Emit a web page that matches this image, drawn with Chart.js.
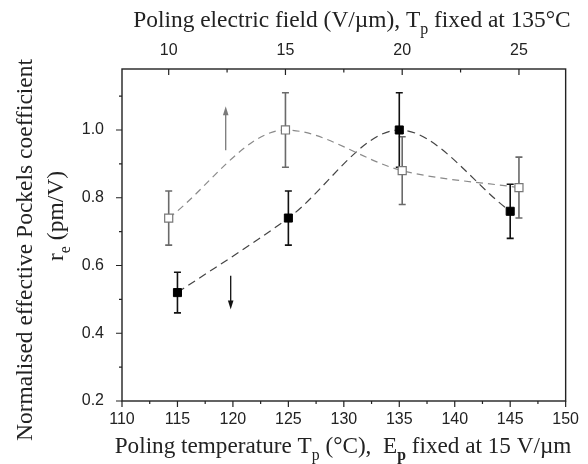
<!DOCTYPE html>
<html>
<head>
<meta charset="utf-8">
<script src="https://cdn.jsdelivr.net/npm/chart.js@4"></script>
<style>
  html, body { margin: 0; padding: 0; background: #fff; }
  #wrap { width: 588px; height: 464px; }
</style>
</head>
<body>
<div id="wrap"><canvas id="chart"></canvas></div>
<script>
// filled squares: r_e vs poling temperature (E fixed at 15 V/um)
var tempC = [115, 125, 135, 145];
var rTemp = [0.52, 0.74, 1.00, 0.76];
var rTempErr = [0.06, 0.08, 0.11, 0.08];

// open squares: r_e vs poling field (T fixed at 135 C)
var fieldE = [10, 15, 20, 25];
var rField = [0.74, 1.00, 0.88, 0.83];
var rFieldErr = [0.08, 0.11, 0.10, 0.09];

var tempTicks = [110, 115, 120, 125, 130, 135, 140, 145, 150];
var fieldTicks = [10, 15, 20, 25];
var rTicks = [0.2, 0.4, 0.6, 0.8, 1.0];

var sansFont = "'Liberation Sans', Arial, sans-serif";
var serifFont = "'Liberation Serif', 'Times New Roman', serif";

function pts(xs, ys) {
    return xs.map(function(x, i) { return {x: x, y: ys[i]}; });
}

// draw text made of parts, some as subscripts
function richText(ctx, parts, x, y, size) {
    var w = 0;
    parts.forEach(function(p) {
        ctx.font = (p.bold ? 'bold ' : '') + (p.sub ? size * 0.68 : size) + 'px ' + serifFont;
        p.w = ctx.measureText(p.t).width;
        w += p.w;
    });
    var cx = x - w / 2;
    parts.forEach(function(p) {
        ctx.font = (p.bold ? 'bold ' : '') + (p.sub ? size * 0.68 : size) + 'px ' + serifFont;
        ctx.fillText(p.t, cx, y + (p.sub ? size * 0.3 : 0));
        cx += p.w;
    });
}

function arrow(ctx, x, y0, y1, color) {
    var dir = y1 < y0 ? -1 : 1;
    ctx.strokeStyle = color;
    ctx.fillStyle = color;
    ctx.lineWidth = 1.3;
    ctx.beginPath();
    ctx.moveTo(x, y0);
    ctx.lineTo(x, y1 - dir * 6);
    ctx.stroke();
    ctx.beginPath();
    ctx.moveTo(x, y1);
    ctx.lineTo(x - 2.8, y1 - dir * 9);
    ctx.lineTo(x + 2.8, y1 - dir * 9);
    ctx.closePath();
    ctx.fill();
}

var errorBars = {
    id: 'errorBars',
    beforeDatasetsDraw: function(chart) {
        var ctx = chart.ctx;
        var sx = chart.scales.x, sx2 = chart.scales.x2, sy = chart.scales.y;
        function bars(xs, ys, es, scale, color) {
            ctx.strokeStyle = color;
            ctx.lineWidth = 1.6;
            xs.forEach(function(v, i) {
                var px = scale.getPixelForValue(v);
                var top = sy.getPixelForValue(ys[i] + es[i]);
                var bot = sy.getPixelForValue(ys[i] - es[i]);
                ctx.beginPath();
                ctx.moveTo(px, top); ctx.lineTo(px, bot);
                ctx.moveTo(px - 3.5, top); ctx.lineTo(px + 3.5, top);
                ctx.moveTo(px - 3.5, bot); ctx.lineTo(px + 3.5, bot);
                ctx.stroke();
            });
        }
        ctx.save();
        bars(fieldE, rField, rFieldErr, sx2, '#6a6a6a');
        bars(tempC, rTemp, rTempErr, sx, '#111');
        ctx.restore();
    }
};

var frame = {
    id: 'frame',
    afterDraw: function(chart) {
        var ctx = chart.ctx, a = chart.chartArea;
        var sx = chart.scales.x, sx2 = chart.scales.x2, sy = chart.scales.y;
        ctx.save();
        ctx.strokeStyle = '#222';
        ctx.lineWidth = 1.4;
        ctx.strokeRect(a.left, a.top, a.right - a.left, a.bottom - a.top);

        ctx.lineWidth = 1.2;
        ctx.beginPath();
        // bottom ticks (outward)
        for (var t = 110; t <= 150; t += 2.5) {
            var px = sx.getPixelForValue(t);
            var len = (t % 5 === 0) ? 6 : 3;
            ctx.moveTo(px, a.bottom); ctx.lineTo(px, a.bottom + len);
        }
        // top ticks (inward)
        for (var e = 10; e <= 25; e += 2.5) {
            var px2 = sx2.getPixelForValue(e);
            var len2 = (e % 5 === 0) ? 6 : 3.5;
            ctx.moveTo(px2, a.top); ctx.lineTo(px2, a.top + len2);
        }
        // left ticks (outward)
        for (var k = 2; k <= 11; k++) {
            var py = sy.getPixelForValue(k / 10);
            var len3 = (k % 2 === 0) ? 6 : 3;
            ctx.moveTo(a.left, py); ctx.lineTo(a.left - len3, py);
        }
        ctx.stroke();

        // arrows telling which axis each series belongs to
        arrow(ctx, sx.getPixelForValue(119.35), sy.getPixelForValue(0.94), sy.getPixelForValue(1.07), '#7a7a7a');
        arrow(ctx, sx.getPixelForValue(119.8), sy.getPixelForValue(0.57), sy.getPixelForValue(0.47), '#111');

        // axis titles
        ctx.fillStyle = '#222';
        ctx.textBaseline = 'alphabetic';
        ctx.textAlign = 'left';
        richText(ctx, [
            {t: 'Poling temperature T'}, {t: 'p', sub: true}, {t: ' (\u00b0C),  E'},
            {t: 'p', sub: true, bold: true}, {t: ' fixed at 15 V/\u00b5m'}
        ], 343, 453, 23.2);
        richText(ctx, [
            {t: 'Poling electric field (V/\u00b5m), T'}, {t: 'p', sub: true},
            {t: ' fixed at 135\u00b0C'}
        ], 352, 27, 23.4);

        ctx.save();
        ctx.translate(32, 250);
        ctx.rotate(-Math.PI / 2);
        richText(ctx, [{t: 'Normalised effective Pockels coefficient'}], 0, 0, 23.5);
        ctx.restore();
        ctx.save();
        ctx.translate(63, 216);
        ctx.rotate(-Math.PI / 2);
        richText(ctx, [{t: 'r'}, {t: 'e', sub: true}, {t: ' (pm/V)'}], 0, 0, 23.5);
        ctx.restore();
        ctx.restore();
    }
};

new Chart(document.getElementById('chart'), {
    type: 'scatter',
    data: {
        datasets: [{
            label: 'field',
            data: pts(fieldE, rField),
            xAxisID: 'x2',
            showLine: true,
            cubicInterpolationMode: 'monotone',
            borderColor: '#8a8a8a',
            borderWidth: 1.2,
            borderDash: [7, 5],
            pointStyle: 'rect',
            pointRadius: 5.7,
            pointBackgroundColor: '#fff',
            pointBorderColor: '#777',
            pointBorderWidth: 1.2
        }, {
            label: 'temperature',
            data: pts(tempC, rTemp),
            xAxisID: 'x',
            showLine: true,
            cubicInterpolationMode: 'monotone',
            borderColor: '#444',
            borderWidth: 1.2,
            borderDash: [8, 5],
            pointStyle: 'rect',
            pointRadius: 5.7,
            pointBackgroundColor: '#000',
            pointBorderColor: '#000',
            pointBorderWidth: 1
        }]
    },
    options: {
        responsive: true,
        maintainAspectRatio: false,
        animation: false,
        layout: { padding: { right: 12, left: 0, top: 0, bottom: 0 } },
        plugins: { legend: { display: false }, tooltip: { enabled: false } },
        scales: {
            x: {
                type: 'linear', position: 'bottom', min: 110, max: 150,
                afterBuildTicks: function(s) { s.ticks = tempTicks.map(function(v) { return {value: v}; }); },
                afterFit: function(s) { s.height = 63; },
                grid: { display: false, drawTicks: false },
                border: { display: false },
                ticks: { padding: 9, color: '#222', font: { family: sansFont, size: 16 }, maxRotation: 0 }
            },
            x2: {
                type: 'linear', position: 'top', min: 8, max: 27,
                afterBuildTicks: function(s) { s.ticks = fieldTicks.map(function(v) { return {value: v}; }); },
                afterFit: function(s) { s.height = 69; },
                grid: { display: false, drawTicks: false },
                border: { display: false },
                ticks: { padding: 9, color: '#222', font: { family: sansFont, size: 16 }, maxRotation: 0 }
            },
            y: {
                type: 'linear', min: 0.2, max: 1.18,
                afterBuildTicks: function(s) { s.ticks = rTicks.map(function(v) { return {value: v}; }); },
                afterFit: function(s) { s.width = 122; },
                grid: { display: false, drawTicks: false },
                border: { display: false },
                ticks: {
                    padding: 18, color: '#222', font: { family: sansFont, size: 16 },
                    callback: function(v) { return v.toFixed(1); }
                }
            }
        }
    },
    plugins: [errorBars, frame]
});
</script>
</body>
</html>
